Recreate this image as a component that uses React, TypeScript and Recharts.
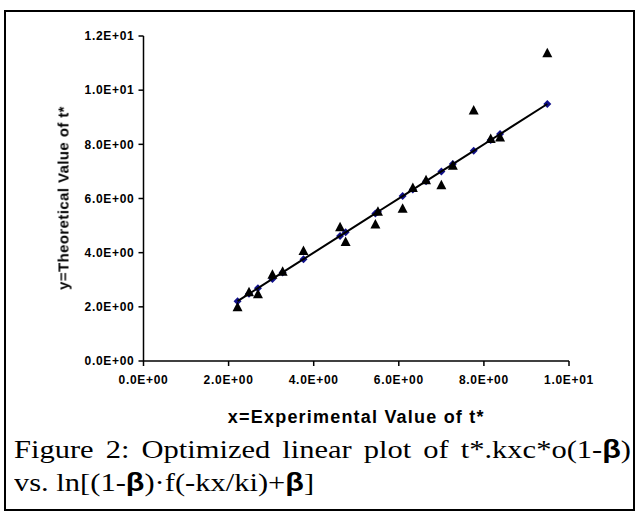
import React from 'react';
import { ScatterChart, Scatter, XAxis, YAxis } from 'recharts';

// experimental t* (x) and matching theoretical t* (triangles)
const expX = [2.21, 2.48, 2.69, 3.03, 3.27, 3.76, 4.62, 4.75, 5.45, 5.51, 6.09, 6.33, 6.64, 7.0, 7.27, 7.76, 8.16, 8.38, 9.49];
const theoY = [2.0, 2.56, 2.48, 3.2, 3.31, 4.08, 4.96, 4.41, 5.06, 5.53, 5.64, 6.41, 6.69, 6.51, 7.23, 9.27, 8.22, 8.27, 11.38];
// optimized linear fit (diamonds + line)
const fitY = [2.21, 2.48, 2.69, 3.03, 3.27, 3.76, 4.62, 4.75, 5.45, 5.51, 6.09, 6.33, 6.64, 7.0, 7.27, 7.76, 8.16, 8.38, 9.49];

const xTicks = [0, 2, 4, 6, 8, 10];
const xTickLabels = ['0.0E+00', '2.0E+00', '4.0E+00', '6.0E+00', '8.0E+00', '1.0E+01'];
const yTicks = [0, 2, 4, 6, 8, 10, 12];
const yTickLabels = ['0.0E+00', '2.0E+00', '4.0E+00', '6.0E+00', '8.0E+00', '1.0E+01', '1.2E+01'];

const theoData = expX.map((x, i) => ({ x, y: theoY[i] }));
const fitData = expX.map((x, i) => ({ x, y: fitY[i] }));

const sans = '"Liberation Sans", Arial, sans-serif';

const Triangle = (props: any) => {
  const { cx, cy } = props;
  return <polygon points={`${cx},${cy - 5} ${cx + 5},${cy + 4.5} ${cx - 5},${cy + 4.5}`} fill="#000" />;
};

const Diamond = (props: any) => {
  const { cx, cy } = props;
  return <polygon points={`${cx},${cy - 4} ${cx + 4},${cy} ${cx},${cy + 4} ${cx - 4},${cy}`} fill="#10108a" />;
};

const NoDot = () => <g />;

const tickStyle = { fill: '#000', fontSize: 12, fontWeight: 700, fontFamily: sans, letterSpacing: 0.7 };
const B = () => <span style={{ fontFamily: sans, fontWeight: 700 }}>β</span>;

export default function App() {
  return (
    <div style={{ position: 'absolute', left: 0, top: 0, width: 639, height: 511, background: '#fff' }}>
      <div style={{ position: 'absolute', left: 4, top: 10, width: 631, height: 501, boxSizing: 'border-box', border: '2px solid #000' }} />
      <ScatterChart
        width={639}
        height={440}
        margin={{ top: 36, right: 70, left: 83.5, bottom: 17 }}
        style={{ position: 'absolute', left: 0, top: 0 }}
      >
        <XAxis
          type="number"
          dataKey="x"
          domain={[0, 10]}
          ticks={xTicks}
          tickFormatter={(v: number) => xTickLabels[xTicks.indexOf(v)]}
          height={62}
          tickSize={5}
          tickMargin={9}
          stroke="#000"
          strokeWidth={1.5}
          tick={tickStyle}
          label={{
            value: 'x=Experimental Value of t*',
            position: 'insideBottom',
            offset: 0,
            style: { fill: '#000', fontSize: 18, fontWeight: 700, fontFamily: sans, letterSpacing: 1.2 },
          }}
        />
        <YAxis
          type="number"
          dataKey="y"
          domain={[0, 12]}
          ticks={yTicks}
          tickFormatter={(v: number) => yTickLabels[yTicks.indexOf(v)]}
          width={60}
          tickSize={5}
          tickMargin={4}
          stroke="#000"
          strokeWidth={1.5}
          tick={tickStyle}
        />
        <Scatter data={fitData} shape={Diamond} isAnimationActive={false} />
        <Scatter data={fitData} shape={NoDot} line={{ stroke: '#000', strokeWidth: 2 }} isAnimationActive={false} />
        <Scatter data={theoData} shape={Triangle} isAnimationActive={false} />
      </ScatterChart>
      <div
        style={{
          position: 'absolute',
          left: 63,
          top: 197.5,
          transform: 'translate(-50%, -50%) rotate(-90deg)',
          willChange: 'transform',
          opacity: 0.99,
          whiteSpace: 'nowrap',
          lineHeight: 1,
          fontFamily: sans,
          fontSize: 15,
          fontWeight: 700,
          letterSpacing: 0.4,
          color: '#000',
        }}
      >
        y=Theoretical Value of t*
      </div>
      <div
        style={{
          position: 'absolute',
          left: 14,
          top: 433,
          width: 617 / 1.22,
          transform: 'scaleX(1.22)',
          transformOrigin: '0 0',
          fontFamily: '"Liberation Serif", "Times New Roman", serif',
          fontSize: 25,
          lineHeight: '32px',
          color: '#000',
          whiteSpace: 'nowrap',
        }}
      >
        <div style={{ textAlign: 'justify', textAlignLast: 'justify', whiteSpace: 'normal' }}>
          Figure 2: Optimized linear plot of t*.kxc*o(1-<B />)
        </div>
        <div>
          vs. ln[(1-<B />)·f(-kx/ki)+<B />]
        </div>
      </div>
    </div>
  );
}
